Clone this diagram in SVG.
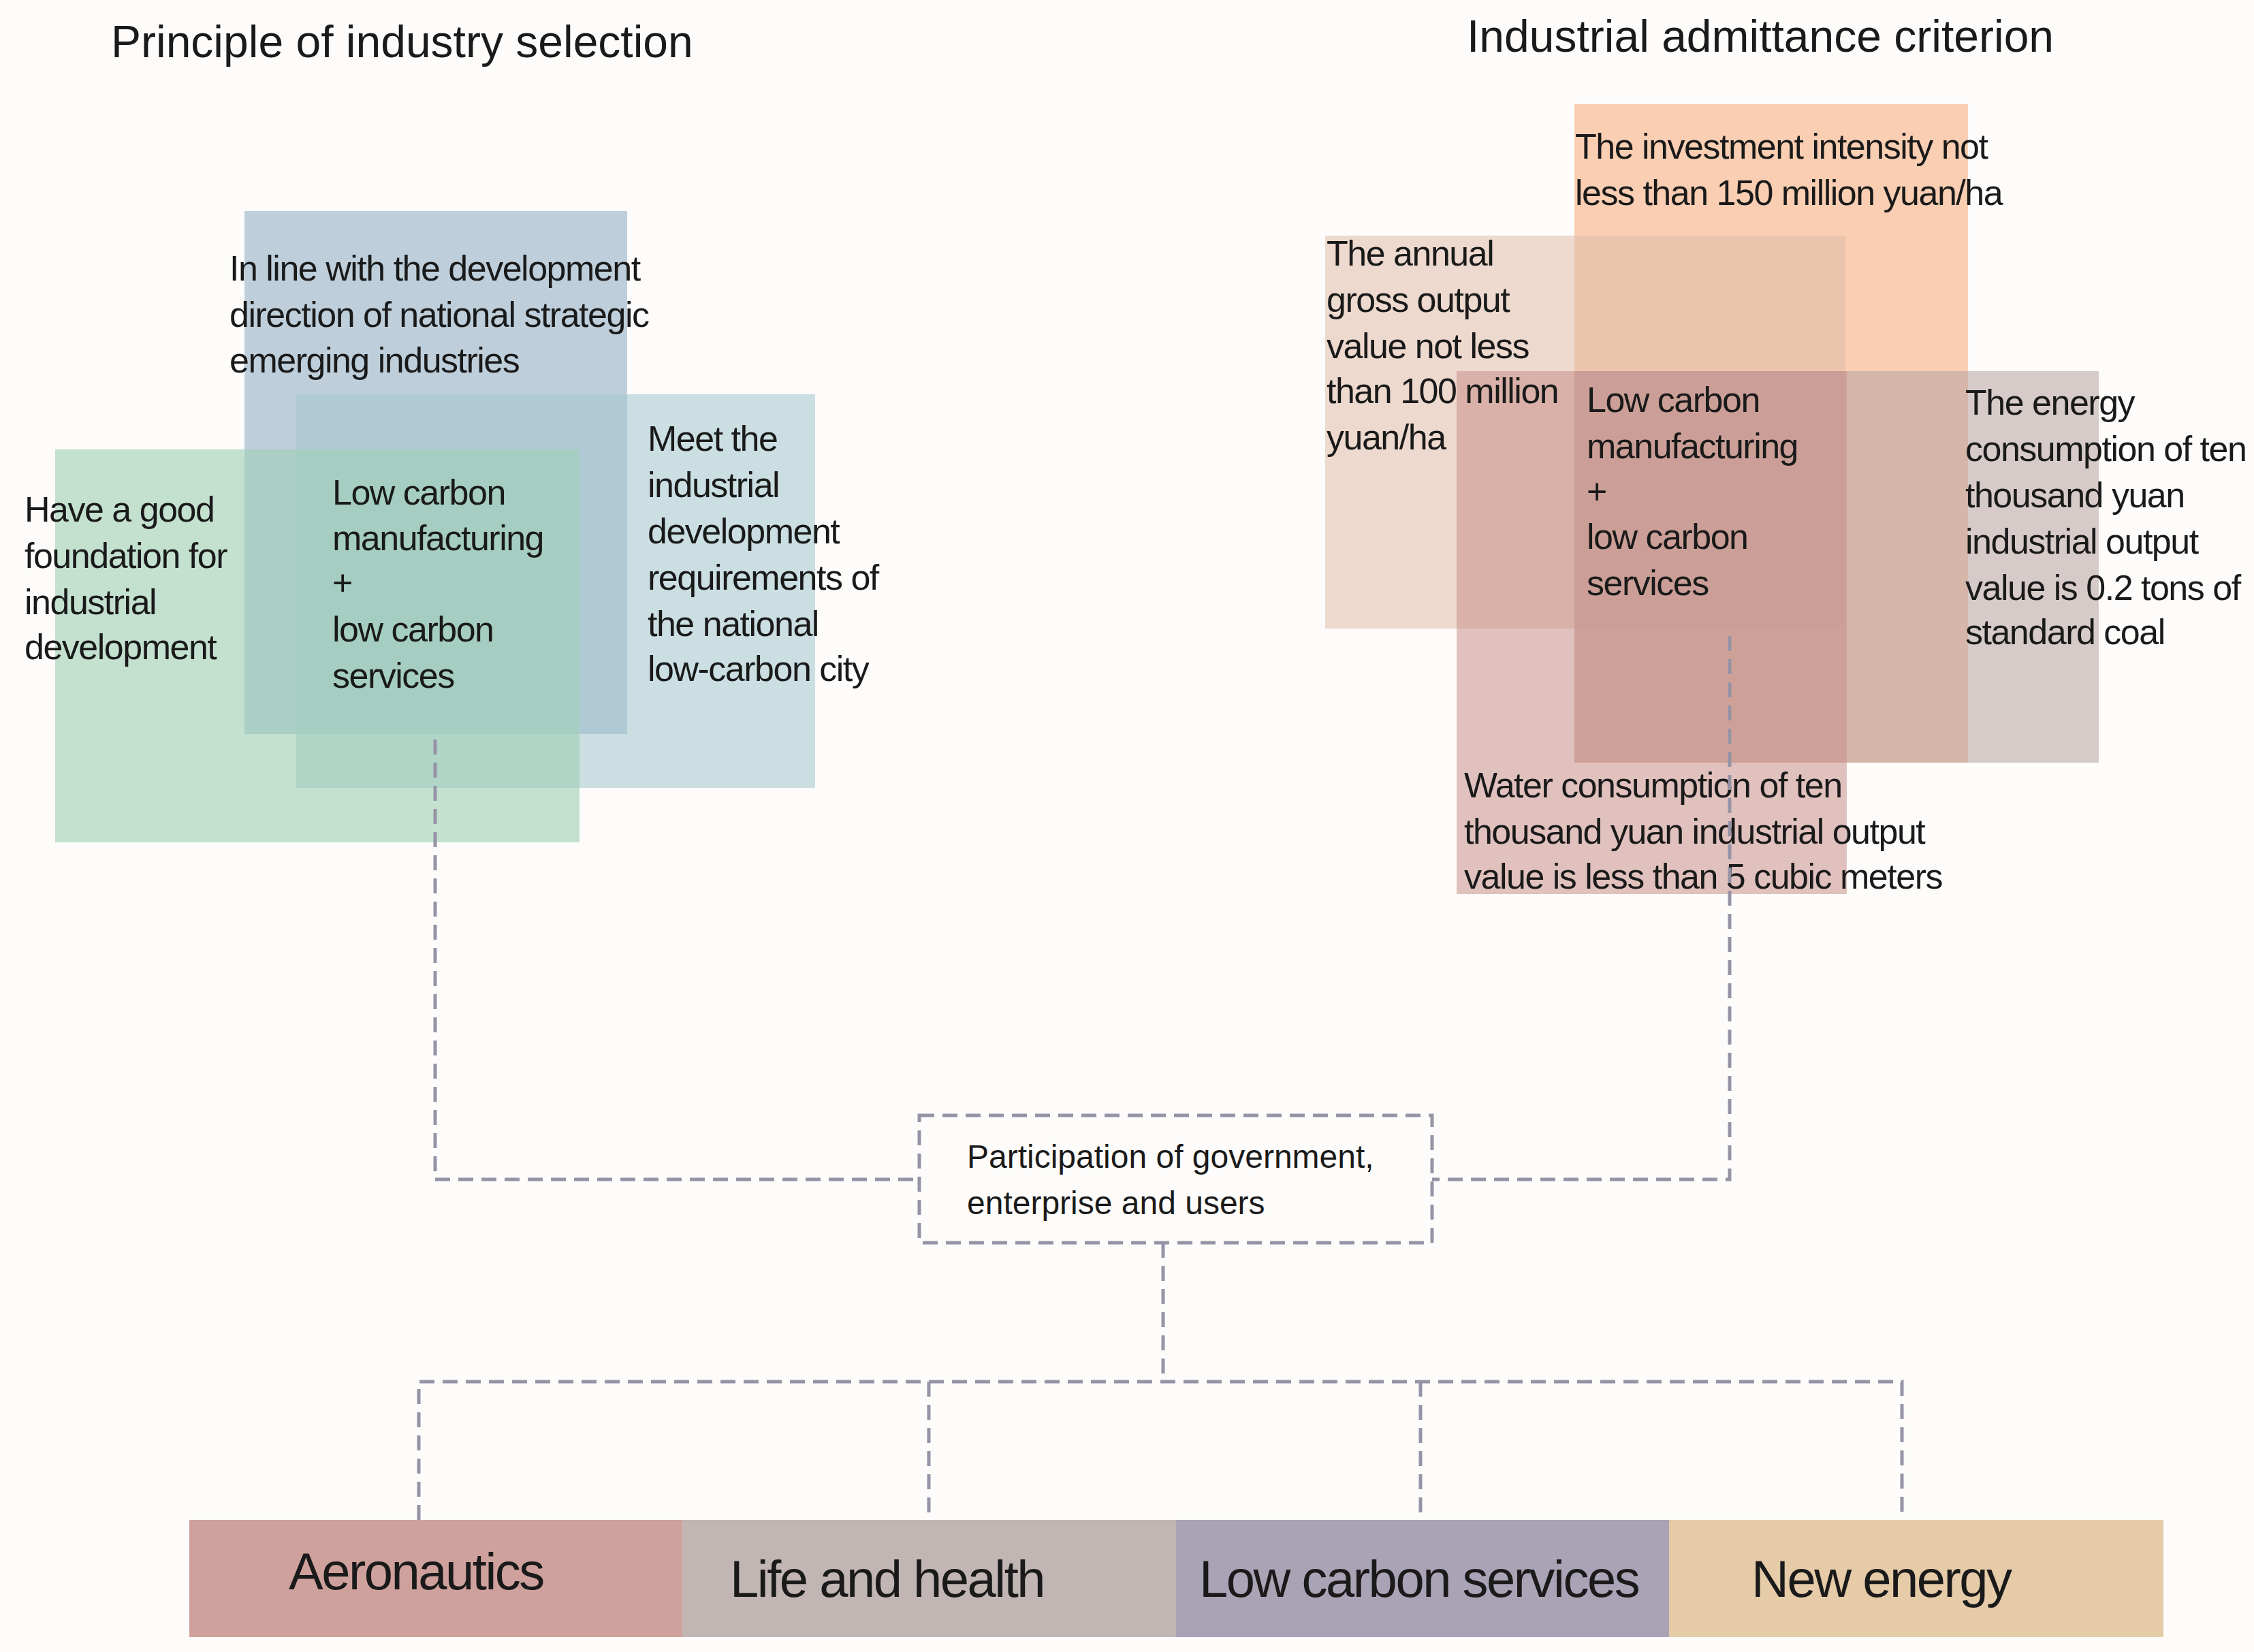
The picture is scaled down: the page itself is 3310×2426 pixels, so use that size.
<svg xmlns="http://www.w3.org/2000/svg" width="3310" height="2426" viewBox="0 0 3310 2426">
<style>
text{font-family:"Liberation Sans",Arial,sans-serif;fill:#1a1a1a;letter-spacing:-1.5px}
.t{font-size:52px}
.h{font-size:66px;letter-spacing:0px}
.s{font-size:48px;letter-spacing:0px}
.b{font-size:76px;letter-spacing:-2.5px}
.dash{fill:none;stroke:#9693a6;stroke-width:5;stroke-dasharray:22 12}
</style>
<rect width="3310" height="2426" fill="#fdfcfa"/>
<text class="h" x="163" y="84">Principle of industry selection</text>
<text class="h" x="2154" y="76">Industrial admittance criterion</text>

<g id="left-venn">
<rect x="359" y="310" width="562" height="768" fill="#95b1c6" opacity="0.6"/>
<rect x="435" y="579" width="762" height="578" fill="#a3c6cf" opacity="0.55"/>
<rect x="81" y="660" width="770" height="577" fill="#9fcfb4" opacity="0.6"/>
<text class="t" x="337"><tspan x="337" y="412">In line with the development</tspan><tspan x="337" y="480">direction of national strategic</tspan><tspan x="337" y="547">emerging industries</tspan></text>
<text class="t"><tspan x="36" y="766">Have a good</tspan><tspan x="36" y="834">foundation for</tspan><tspan x="36" y="902">industrial</tspan><tspan x="36" y="968">development</tspan></text>
<text class="t"><tspan x="488" y="741">Low carbon</tspan><tspan x="488" y="808">manufacturing</tspan><tspan x="488" y="874">+</tspan><tspan x="488" y="942">low carbon</tspan><tspan x="488" y="1010">services</tspan></text>
<text class="t"><tspan x="951" y="662">Meet the</tspan><tspan x="951" y="730">industrial</tspan><tspan x="951" y="798">development</tspan><tspan x="951" y="866">requirements of</tspan><tspan x="951" y="934">the national</tspan><tspan x="951" y="1000">low-carbon city</tspan></text>
</g>

<g id="right-venn">
<rect x="2312" y="153" width="578" height="967" fill="#f8b58c" opacity="0.65"/>
<rect x="1946" y="346" width="764" height="577" fill="#e0bba9" opacity="0.55"/>
<rect x="2312" y="545" width="770" height="575" fill="#b8a3a3" opacity="0.55"/>
<rect x="2139" y="545" width="573" height="768" fill="#c88f8a" opacity="0.55"/>
<text class="t"><tspan x="2313" y="233">The investment intensity not</tspan><tspan x="2313" y="301">less than 150 million yuan/ha</tspan></text>
<text class="t"><tspan x="1948" y="390">The annual</tspan><tspan x="1948" y="458">gross output</tspan><tspan x="1948" y="526">value not less</tspan><tspan x="1948" y="592">than 100 million</tspan><tspan x="1948" y="660">yuan/ha</tspan></text>
<text class="t"><tspan x="2330" y="605">Low carbon</tspan><tspan x="2330" y="673">manufacturing</tspan><tspan x="2330" y="740">+</tspan><tspan x="2330" y="806">low carbon</tspan><tspan x="2330" y="874">services</tspan></text>
<text class="t"><tspan x="2886" y="609">The energy</tspan><tspan x="2886" y="677">consumption of ten</tspan><tspan x="2886" y="745">thousand yuan</tspan><tspan x="2886" y="813">industrial output</tspan><tspan x="2886" y="881">value is 0.2 tons of</tspan><tspan x="2886" y="946">standard coal</tspan></text>
<text class="t"><tspan x="2150" y="1171">Water consumption of ten</tspan><tspan x="2150" y="1239">thousand yuan industrial output</tspan><tspan x="2150" y="1305">value is less than 5 cubic meters</tspan></text>
</g>

<g id="connectors">
<path class="dash" d="M639 1086 V1732 H1350"/>
<path class="dash" d="M2540 934 V1732 H2103"/>
<path class="dash" d="M1708 1825 V2029"/>
<path class="dash" d="M615 2232 V2029 H2793 V2232"/>
<path class="dash" d="M1364 2029 V2232 M2086 2029 V2232"/>
</g>

<g id="participation">
<rect class="dash" x="1350" y="1638" width="753" height="187"/>
<text class="s"><tspan x="1420" y="1715">Participation of government,</tspan><tspan x="1420" y="1783">enterprise and users</tspan></text>
</g>

<g id="aeronautics"><rect x="278" y="2232" width="724" height="172" fill="#cfa19d"/><text class="b" x="424" y="2334">Aeronautics</text></g>
<g id="life"><rect x="1002" y="2232" width="725" height="172" fill="#c2b6b4"/><text class="b" x="1072" y="2345">Life and health</text></g>
<g id="lowcarbon"><rect x="1727" y="2232" width="724" height="172" fill="#aaa3b6"/><text class="b" x="1761" y="2345">Low carbon services</text></g>
<g id="newenergy"><rect x="2451" y="2232" width="726" height="172" fill="#e6cba9"/><text class="b" x="2572" y="2345">New energy</text></g>
</svg>
